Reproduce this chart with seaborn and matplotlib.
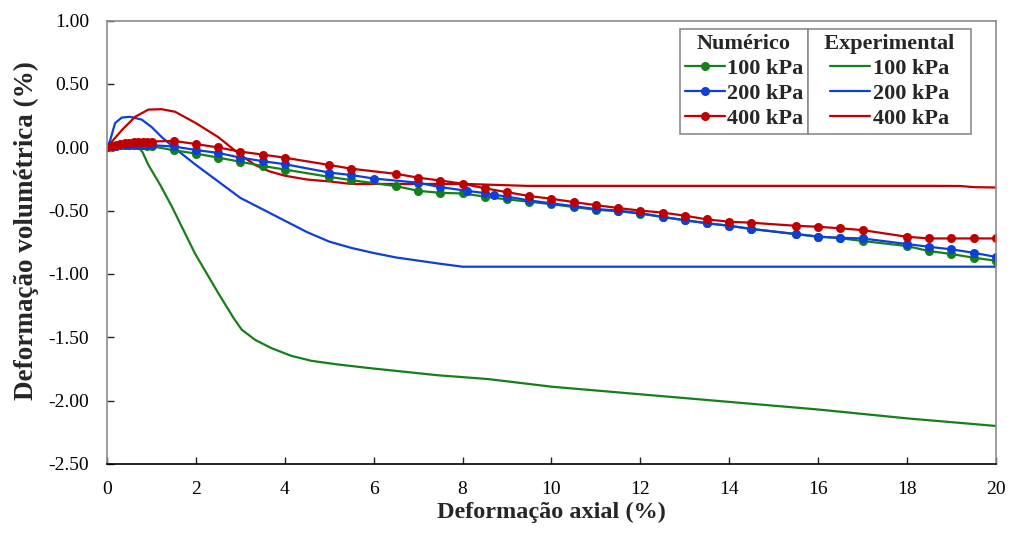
import matplotlib
matplotlib.use("Agg")
import matplotlib.pyplot as plt
from matplotlib.lines import Line2D
import seaborn as sns

# ---- numerical results (markers) ----
num_100_x = [0, 0.1, 0.2, 0.3, 0.4, 0.5, 0.6, 0.7, 0.8, 0.9, 1.0, 1.5, 2, 2.5, 3, 3.5, 4,
             5, 5.5, 6.5, 7, 7.5, 8, 8.5, 9, 9.5, 10, 10.5, 11, 11.5, 12, 12.5, 13, 13.5,
             14, 14.5, 15.5, 16, 16.5, 17, 18, 18.5, 19, 19.5, 20]
num_100_y = [0, 0.005, 0.01, 0.014, 0.017, 0.019, 0.019, 0.017, 0.014, 0.011, 0.008, -0.024,
             -0.05, -0.082, -0.115, -0.148, -0.176, -0.234, -0.26, -0.307, -0.344, -0.36,
             -0.365, -0.39, -0.412, -0.43, -0.45, -0.472, -0.494, -0.505, -0.525, -0.55,
             -0.575, -0.60, -0.62, -0.645, -0.685, -0.705, -0.718, -0.74, -0.78, -0.82,
             -0.843, -0.872, -0.896]

num_200_x = [0, 0.1, 0.2, 0.3, 0.4, 0.5, 0.6, 0.7, 0.8, 0.9, 1.0, 1.5, 2, 2.5, 3, 3.5, 4,
             5, 5.5, 6, 7, 7.5, 8.1, 8.5, 8.7, 9, 9.5, 10, 10.5, 11, 11.5, 12, 12.5, 13,
             13.5, 14, 14.5, 15.5, 16, 16.5, 17, 18, 18.5, 19, 19.5, 20]
num_200_y = [0, 0.007, 0.012, 0.016, 0.018, 0.019, 0.02, 0.02, 0.019, 0.018, 0.016, 0.006,
             -0.022, -0.045, -0.082, -0.11, -0.134, -0.20, -0.22, -0.247, -0.28, -0.315,
             -0.344, -0.362, -0.375, -0.39, -0.42, -0.443, -0.465, -0.488, -0.50, -0.52,
             -0.55, -0.577, -0.60, -0.62, -0.645, -0.686, -0.706, -0.715, -0.72, -0.764,
             -0.786, -0.806, -0.833, -0.866]

num_400_x = [0, 0.1, 0.2, 0.3, 0.4, 0.5, 0.6, 0.7, 0.8, 0.9, 1.0, 1.5, 2, 2.5, 3, 3.5, 4,
             5, 5.5, 6.5, 7, 7.5, 8, 8.5, 9, 9.5, 10, 10.5, 11, 11.5, 12, 12.5, 13, 13.5,
             14, 14.5, 15.5, 16, 16.5, 17, 18, 18.5, 19, 19.5, 20]
num_400_y = [0, 0.01, 0.018, 0.024, 0.03, 0.035, 0.039, 0.042, 0.044, 0.045, 0.045, 0.05,
             0.025, -0.002, -0.035, -0.058, -0.083, -0.14, -0.17, -0.21, -0.24, -0.263,
             -0.288, -0.324, -0.355, -0.385, -0.407, -0.433, -0.457, -0.48, -0.50, -0.516,
             -0.54, -0.57, -0.588, -0.596, -0.62, -0.628, -0.64, -0.654, -0.707, -0.72,
             -0.72, -0.72, -0.72]

# ---- experimental results (plain lines) ----
exp_100_x = [0, 0.2, 0.44, 0.67, 0.8, 0.93, 1.2, 1.46, 1.98, 2.5, 2.85, 3.03, 3.33, 3.7,
             4.15, 4.6, 5.2, 5.95, 7.45, 8.58, 10, 12, 14, 16, 18, 20]
exp_100_y = [0, 0.025, 0.035, 0.016, -0.04, -0.14, -0.3, -0.47, -0.84, -1.15, -1.35,
             -1.44, -1.52, -1.586, -1.647, -1.686, -1.715, -1.745, -1.80, -1.83, -1.89,
             -1.95, -2.01, -2.07, -2.14, -2.20]

exp_200_x = [0, 0.07, 0.18, 0.33, 0.52, 0.78, 1.0, 1.23, 1.53, 2.0, 2.5, 3.0, 3.5, 4.0,
             4.5, 5.0, 5.5, 6.0, 6.5, 7.0, 7.5, 8.0, 10, 14, 18, 20]
exp_200_y = [0, 0.055, 0.19, 0.234, 0.24, 0.218, 0.16, 0.08, -0.01, -0.14, -0.27, -0.40,
             -0.49, -0.58, -0.67, -0.745, -0.795, -0.835, -0.87, -0.895, -0.92, -0.943,
             -0.943, -0.943, -0.943, -0.943]

exp_400_x = [0, 0.33, 0.63, 0.93, 1.23, 1.53, 2.0, 2.5, 2.75, 3.0, 3.33, 3.65, 4.0, 4.5,
             5.0, 5.5, 6.7, 8.09, 9.44, 12, 15, 18.5, 19.2, 19.5, 20]
exp_400_y = [0, 0.134, 0.24, 0.297, 0.30, 0.28, 0.19, 0.08, 0.01, -0.06, -0.14, -0.19,
             -0.225, -0.255, -0.27, -0.29, -0.29, -0.29, -0.305, -0.305, -0.305, -0.305,
             -0.306, -0.315, -0.318]

series_labels = ["100 kPa", "200 kPa", "400 kPa"]
colors = ["#15801a", "#0d3fd9", "#c00000"]

x_ticks = list(range(0, 21, 2))
y_ticks = [-2.5, -2.0, -1.5, -1.0, -0.5, 0.0, 0.5, 1.0]

sns.set_style("ticks")
plt.rcParams["font.family"] = ["Liberation Serif", "DejaVu Serif"]
plt.rcParams["axes.unicode_minus"] = False

fig = plt.figure(figsize=(10.10, 5.33), dpi=100)
ax = fig.add_axes([0.106, 0.1295, 0.88, 0.832])

exp_sets = [(exp_100_x, exp_100_y), (exp_200_x, exp_200_y), (exp_400_x, exp_400_y)]
num_sets = [(num_100_x, num_100_y), (num_200_x, num_200_y), (num_400_x, num_400_y)]

for (xs, ys), c in zip(exp_sets, colors):
    sns.lineplot(x=xs, y=ys, color=c, linewidth=1.6, sort=False, estimator=None, ax=ax)

for (xs, ys), c in zip(num_sets, colors):
    sns.lineplot(x=xs, y=ys, color=c, linewidth=1.6, marker="o", markersize=6.5,
                 markeredgecolor=c, markeredgewidth=0, sort=False, estimator=None, ax=ax)

ax.set_xlim(0, 20)
ax.set_ylim(-2.5, 1.0)
ax.set_xticks(x_ticks)
ax.set_yticks(y_ticks)
ax.set_xticklabels([str(v) for v in x_ticks])
ax.set_yticklabels([f"{v:.2f}" for v in y_ticks])
ax.tick_params(axis="both", direction="in", length=5, width=1, colors="#222222",
               labelsize=14, labelcolor="black")
ax.tick_params(axis="x", pad=12)
ax.tick_params(axis="y", pad=13)

for side in ["left", "top", "right"]:
    ax.spines[side].set_visible(True)
    ax.spines[side].set_color("#8c8c8c")
    ax.spines[side].set_linewidth(1.2)
ax.spines["bottom"].set_color("black")
ax.spines["bottom"].set_linewidth(1.2)

ax.set_xlabel("Deformação axial (%)", fontsize=17.5, fontweight="bold", labelpad=3)
ax.set_ylabel("Deformação volumétrica (%)", fontsize=19.5, fontweight="bold")
ax.yaxis.set_label_coords(-0.077, 0.527)

# two-part legend box: numerical on the left, experimental on the right
num_handles = [Line2D([], [], color=c, linewidth=1.6, marker="o", markersize=6.5,
                      markeredgewidth=0) for c in colors]
exp_handles = [Line2D([], [], color=c, linewidth=1.6) for c in colors]

leg_kw = dict(frameon=True, fancybox=False, edgecolor="#8c8c8c", framealpha=1,
              prop={"weight": "bold", "size": 16}, handlelength=1.8,
              handletextpad=0.1, labelspacing=0.2, borderpad=0.23,
              borderaxespad=0, title_fontproperties={"weight": "bold", "size": 16})

leg_num = ax.legend(num_handles, series_labels, title="Numérico",
                    loc="upper right", bbox_to_anchor=(0.789, 0.982), **leg_kw)
leg_num.get_frame().set_linewidth(1.2)
ax.add_artist(leg_num)
leg_exp = ax.legend(exp_handles, series_labels, title="  Experimental  ",
                    loc="upper left", bbox_to_anchor=(0.789, 0.982), **leg_kw)
leg_exp.get_frame().set_linewidth(1.2)

fig.savefig("out.png", dpi=100)
